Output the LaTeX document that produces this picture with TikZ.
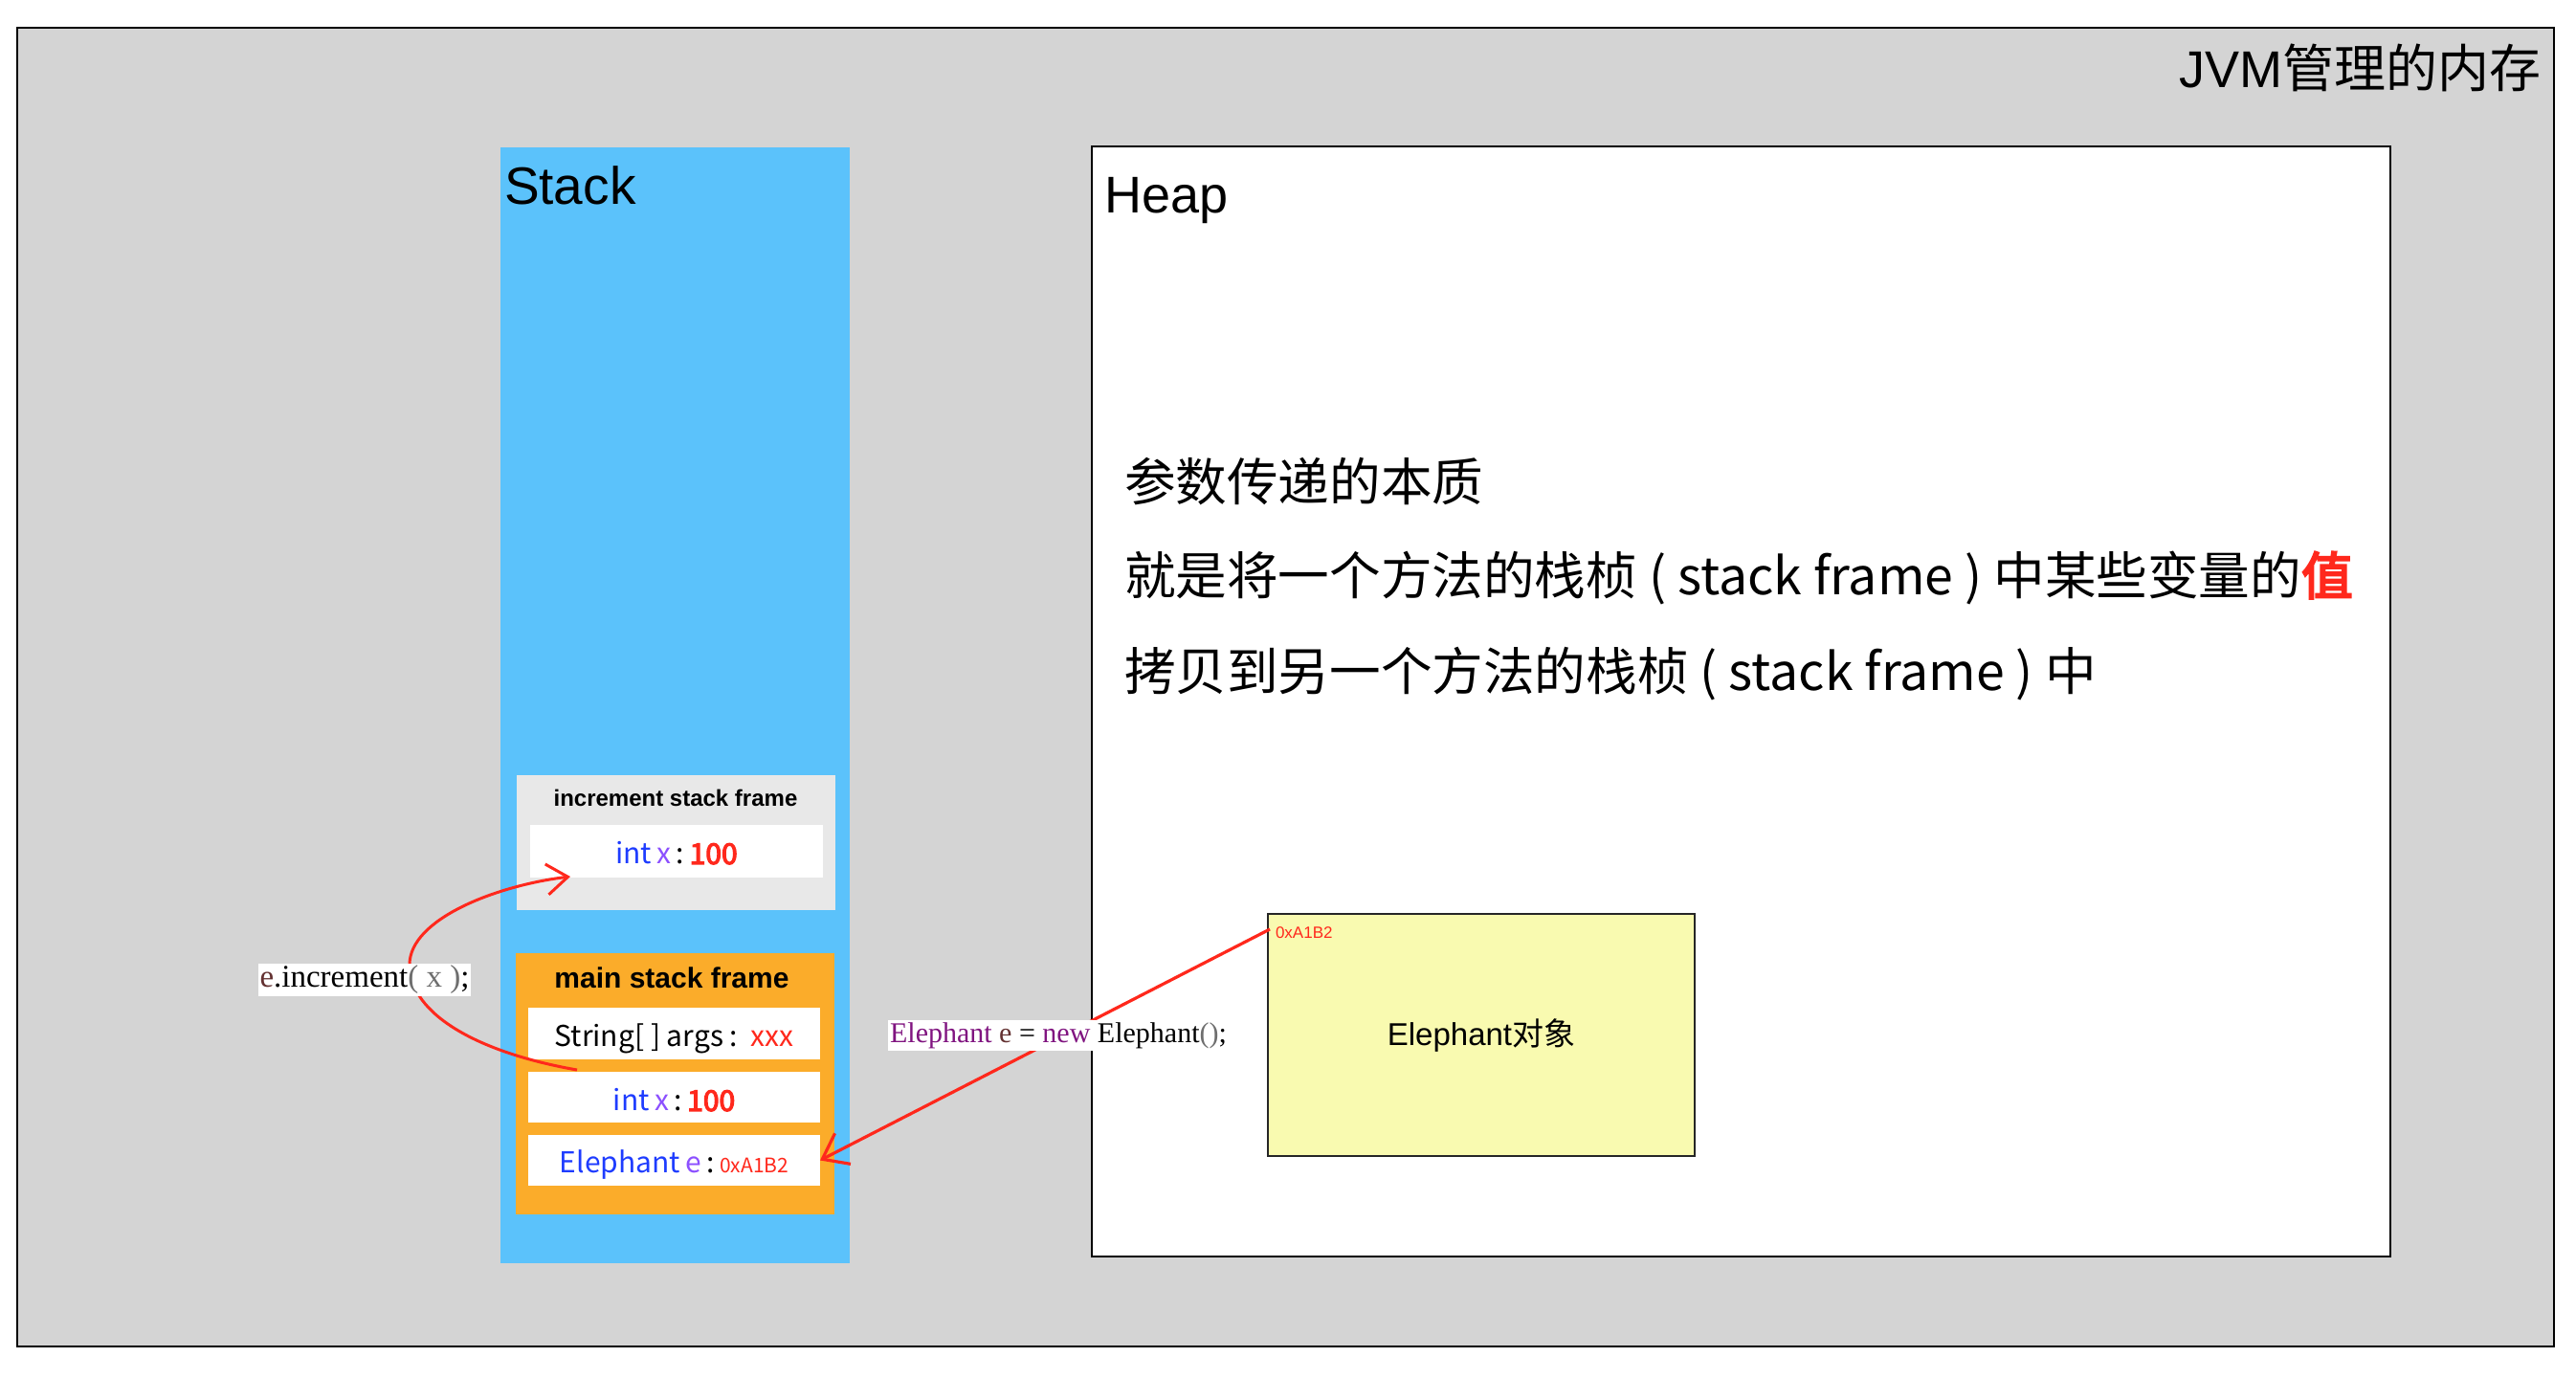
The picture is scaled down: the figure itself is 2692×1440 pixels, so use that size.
\documentclass[tikz,border=0pt]{standalone}
\usepackage{fontspec}
\setmainfont{Liberation Serif}
\setsansfont{Liberation Sans}
\newfontfamily\cjk{Noto Sans CJK SC}
\newfontfamily\cjkb{Noto Sans CJK SC}[FakeBold=4]
\usetikzlibrary{arrows.meta,fit}
\definecolor{outergray}{RGB}{212,212,212}
\definecolor{stackblue}{RGB}{91,194,251}
\definecolor{framegray}{RGB}{232,232,232}
\definecolor{frameorange}{RGB}{251,172,42}
\definecolor{objyellow}{RGB}{249,250,176}
\definecolor{arrred}{RGB}{255,40,28}
\definecolor{typeblue}{RGB}{30,60,255}
\definecolor{varpurple}{RGB}{140,80,255}
\definecolor{numred}{RGB}{255,40,28}
\definecolor{codepurple}{RGB}{128,20,128}
\definecolor{codebrown}{RGB}{100,50,50}
\definecolor{codegray}{RGB}{110,110,110}
\tikzset{
  region/.style={inner sep=0pt, outer sep=0pt, draw=none},
  rowbox/.style={region, fill=white},
  rowtext/.style={inner sep=0pt, outer sep=0pt, font=\cjk\fontsize{15}{18}\selectfont},
  label/.style={inner sep=0pt, outer sep=0pt},
}
\newcommand{\thinsp}{\hspace{0.18em}}
\begin{document}
\begin{tikzpicture}[x=0.5pt,y=-0.5pt]
\useasboundingbox (0,0) rectangle (2692,1440);
\fill[white] (0,0) rectangle (2692,1440);

% JVM memory
\node[region, fit={(18,29)(2669,1407)}, fill=outergray, draw=black, line width=1.1pt] (jvm) {};
\node[label, anchor=base east, font=\fontsize{27}{31}\selectfont] (jvmlabel) at (2655,91) {{\sffamily JVM}{\cjk 管理的内存}};

% Stack
\node[region, fit={(523,154)(888,1320)}, fill=stackblue] (stack) {};
\node[label, anchor=base west, font=\sffamily\fontsize{27.5}{32}\selectfont] (stacklabel) at (527,213) {Stack};

% Heap
\node[region, fit={(1141,153)(2498,1313)}, fill=white, draw=black, line width=1.1pt] (heap) {};
\node[label, anchor=base west, font=\sffamily\fontsize{27}{32}\selectfont] (heaplabel) at (1154,222) {Heap};

% increment frame
\node[region, fit={(540,810)(873,951)}, fill=framegray] (incframe) {};
\node[label, font=\sffamily\bfseries\fontsize{12}{14}\selectfont] (inctitle) at (706,834) {increment stack frame};
\node[rowbox, fit={(554,862)(860,917)}] (incx) {};
\node[rowtext] (incxt) at ([yshift=-1pt]incx.center) {{\color{typeblue}int}\thinsp{\color{varpurple}x}\thinsp:\thinsp{\cjkb\color{numred}100}};

% main frame
\node[region, fit={(539,996)(872,1269)}, fill=frameorange] (mainframe) {};
\node[label, font=\sffamily\bfseries\fontsize{15}{18}\selectfont] (maintitle) at (702,1022) {main stack frame};
\node[rowbox, fit={(552,1053)(857,1107)}] (mainargs) {};
\node[rowtext] (mainargst) at ([yshift=-2.5pt]mainargs.center) {String[ ] args :\ \ {\color{numred}xxx}};
\node[rowbox, fit={(552,1120)(857,1173)}] (mainx) {};
\node[rowtext] (mainxt) at ([yshift=-1.5pt]mainx.center) {{\color{typeblue}int}\thinsp{\color{varpurple}x}\thinsp:\thinsp{\cjkb\color{numred}100}};
\node[rowbox, fit={(552,1186)(857,1239)}] (maine) {};
\node[rowtext] (maint) at ([yshift=-2pt]maine.center) {{\color{typeblue}Elephant}\thinsp{\color{varpurple}e}\thinsp:\thinsp{\color{numred}\fontsize{10.5}{13}\selectfont 0xA1B2}};

% Elephant object
\node[region, fit={(1325,955)(1771,1208)}, fill=objyellow, draw=black!85, line width=0.9pt] (obj) {};
\node[label, font=\sffamily\fontsize{16.5}{20}\selectfont] (objlabel) at (obj.center) {Elephant{\cjk 对象}};
\node[label, anchor=west, font=\sffamily\fontsize{8.5}{10}\selectfont, text=numred] (objaddr) at (1333,975) {0xA1B2};

% heap text
\node[label, anchor=west, font=\cjk\fontsize{26.8}{30}\selectfont] (line1) at (1175,503) {参数传递的本质};
\node[label, anchor=west, font=\cjk\fontsize{26.8}{30}\selectfont] (line2) at (1175,604) {就是将一个方法的栈桢 ( stack frame ) 中某些变量的{\cjkb\color{numred}值}};
\node[label, anchor=west, font=\cjk\fontsize{26.8}{30}\selectfont] (line3) at (1175,704) {拷贝到另一个方法的栈桢 ( stack frame ) 中};

% reference arrow
\coordinate (objref) at (1327,971);
\draw[draw=arrred, line width=1.6pt, -{Straight Barb[length=12pt,width=18pt]}] (objref) -- (maine.east);
\node[fill=white, inner sep=1pt, font=\fontsize{15}{18}\selectfont] (newcode) at (1106,1082) {{\color{codepurple}Elephant} {\color{codebrown}e} = {\color{codepurple}new} Elephant{\color{codegray}()};};

% call arrow
\coordinate (calltail) at (603,1118);
\coordinate (callbend) at (428,1008);
\coordinate (callhead) at (596,916);
\draw[draw=arrred, line width=1.5pt, -{Straight Barb[length=11pt,width=16pt]}] (calltail) .. controls (500,1100) and (428,1060) .. (callbend) .. controls (428,960) and (520,925) .. (callhead);
\node[fill=white, inner sep=1pt, font=\fontsize{16.5}{20}\selectfont] (callcode) at (381,1024) {{\color{codebrown}e}.increment{\color{codegray}( x )};};
\end{tikzpicture}
\end{document}
